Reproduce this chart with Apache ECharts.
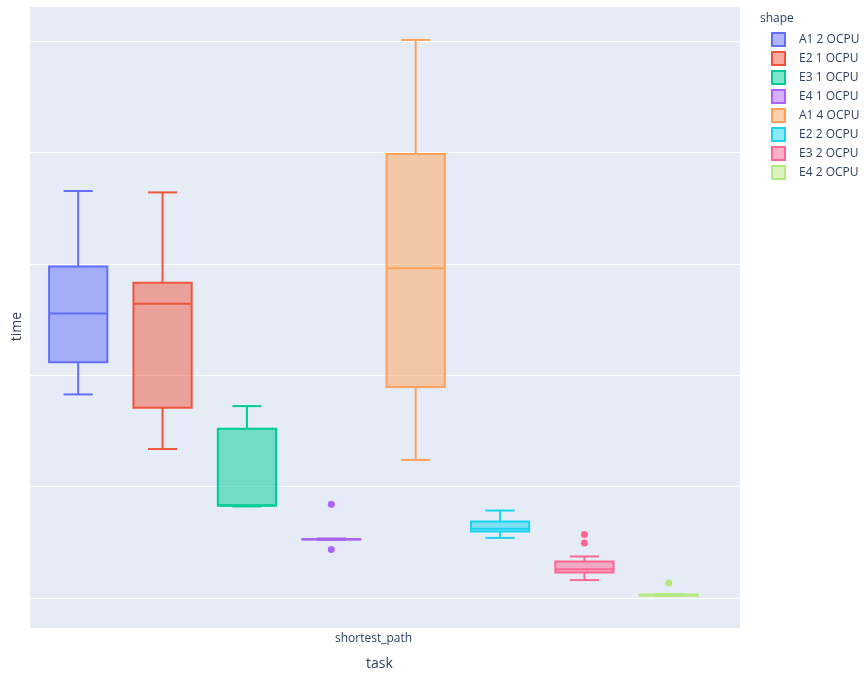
<!DOCTYPE html>
<html>
<head>
<meta charset="utf-8">
<script src="https://cdn.jsdelivr.net/npm/echarts@6/dist/echarts.min.js"></script>
<style>
html,body{margin:0;padding:0;background:#fff;}
#main{width:864px;height:676px;}
</style>
</head>
<body>
<div id="main"></div>
<script>
// ---- data (y units are arbitrary, labels hidden) ----
const taskCategories = ['shortest_path'];
const shapes = ['A1 2 OCPU', 'E2 1 OCPU', 'E3 1 OCPU', 'E4 1 OCPU', 'A1 4 OCPU', 'E2 2 OCPU', 'E3 2 OCPU', 'E4 2 OCPU'];
const boxMin    = [1.822, 1.331, 0.815, 0.514, 1.233, 0.532, 0.153, 0.010];
const boxQ1     = [2.112, 1.703, 0.820, 0.517, 1.888, 0.590, 0.222, 0.013];
const boxMedian = [2.549, 2.636, 0.826, 0.520, 2.956, 0.615, 0.251, 0.018];
const boxQ3     = [2.971, 2.825, 1.514, 0.523, 3.983, 0.680, 0.320, 0.023];
const boxMax    = [3.651, 3.638, 1.717, 0.527, 5.009, 0.778, 0.365, 0.026];
const outliers  = [[], [], [], [0.835, 0.428], [], [], [0.563, 0.487], [0.126]];
const yTicks = [0, 1, 2, 3, 4, 5];

// ---- styles ----
const lineColors = ['#636efa', '#EF553B', '#00cc96', '#ab63fa', '#FFA15A', '#19d3f3', '#FF6692', '#B6E880'];
const FONT = '"Open Sans", verdana, arial, sans-serif';
const TXT = '#2a3f5f';
const PLOT_BG = '#E5ECF6';

function hexToRgba(hex, a) {
  const h = hex.replace('#', '');
  const r = parseInt(h.slice(0, 2), 16), g = parseInt(h.slice(2, 4), 16), b = parseInt(h.slice(4, 6), 16);
  return 'rgba(' + r + ',' + g + ',' + b + ',' + a + ')';
}

const BOX_RATIO = 0.69;

function makeRender(color) {
  const fill = hexToRgba(color, 0.5);
  return function (params, api) {
    const xi = api.value(0);
    const pMin = api.coord([xi, api.value(1)]);
    const pQ1 = api.coord([xi, api.value(2)]);
    const pMed = api.coord([xi, api.value(3)]);
    const pQ3 = api.coord([xi, api.value(4)]);
    const pMax = api.coord([xi, api.value(5)]);
    const band = api.size([1, 0])[0];
    const bw = band * BOX_RATIO;
    const cw = bw / 2;
    const cx = pMed[0];
    const ls = { stroke: color, lineWidth: 2, fill: null };
    return {
      type: 'group',
      children: [
        { type: 'line', shape: { x1: cx, y1: pMax[1], x2: cx, y2: pQ3[1] }, style: ls },
        { type: 'line', shape: { x1: cx, y1: pQ1[1], x2: cx, y2: pMin[1] }, style: ls },
        { type: 'line', shape: { x1: cx - cw / 2, y1: pMax[1], x2: cx + cw / 2, y2: pMax[1] }, style: ls },
        { type: 'line', shape: { x1: cx - cw / 2, y1: pMin[1], x2: cx + cw / 2, y2: pMin[1] }, style: ls },
        { type: 'rect', shape: { x: cx - bw / 2, y: pQ3[1], width: bw, height: pQ1[1] - pQ3[1] },
          style: { fill: fill, stroke: color, lineWidth: 2 } },
        { type: 'line', shape: { x1: cx - bw / 2, y1: pMed[1], x2: cx + bw / 2, y2: pMed[1] }, style: ls }
      ]
    };
  };
}

const yMin = -0.269, yMax = 5.305;

const series = [];
shapes.forEach(function (name, i) {
  series.push({
    name: name,
    type: 'custom',
    xAxisIndex: 1,
    yAxisIndex: 1,
    color: lineColors[i],
    renderItem: makeRender(lineColors[i]),
    encode: { x: 0, y: [1, 2, 3, 4, 5] },
    data: [[i, boxMin[i], boxQ1[i], boxMedian[i], boxQ3[i], boxMax[i]]],
    z: 3
  });
  if (outliers[i].length) {
    series.push({
      name: name,
      type: 'scatter',
      xAxisIndex: 1,
      yAxisIndex: 1,
      symbol: 'circle',
      symbolSize: 7,
      itemStyle: { color: lineColors[i], opacity: 1 },
      data: outliers[i].map(function (v) { return [i, v]; }),
      z: 4
    });
  }
});

const option = {
  animation: false,
  backgroundColor: '#fff',
  textStyle: { fontFamily: FONT },
  graphic: [{
    type: 'text', left: 760, top: 13,
    style: { text: 'shape', font: '12px ' + FONT, fill: TXT }
  }],
  legend: {
    orient: 'vertical',
    left: 766,
    top: 27,
    itemWidth: 13,
    itemHeight: 13,
    itemGap: 4,
    icon: 'rect',
    textStyle: { fontFamily: FONT, fontSize: 12, color: TXT, padding: [0, 0, 0, 9] },
    data: shapes.map(function (n, i) {
      return { name: n, icon: 'rect',
        itemStyle: { color: hexToRgba(lineColors[i], 0.5), borderColor: lineColors[i], borderWidth: 2 } };
    })
  },
  grid: [
    { left: 30, right: 124, top: 7, bottom: 48, show: true, backgroundColor: PLOT_BG, borderWidth: 0 },
    { left: 36, width: 675, top: 7, bottom: 48, show: false }
  ],
  xAxis: [
    { type: 'category', gridIndex: 0, data: [''], axisLine: { show: false }, axisTick: { show: false },
      axisLabel: { show: false }, splitLine: { show: false } },
    { type: 'category', gridIndex: 1, data: shapes, show: false, position: 'bottom' },
    { type: 'category', gridIndex: 1, data: taskCategories, position: 'bottom',
      axisLine: { show: false }, axisTick: { show: false }, splitLine: { show: false },
      axisLabel: { show: true, color: TXT, fontSize: 12, fontFamily: FONT, margin: 6 },
      name: 'task', nameLocation: 'middle', nameGap: 30,
      nameTextStyle: { color: TXT, fontSize: 14, fontFamily: FONT, padding: [0, 0, 0, 12] } }
  ],
  yAxis: [
    { type: 'value', gridIndex: 0, min: yMin, max: yMax, splitNumber: yTicks.length - 1,
      axisLine: { show: false }, axisTick: { show: false }, axisLabel: { show: false },
      splitLine: { show: true, showMinLine: false, showMaxLine: false, lineStyle: { color: '#ffffff', width: 1 } },
      name: 'time', nameLocation: 'middle', nameGap: 6,
      nameTextStyle: { color: TXT, fontSize: 14, fontFamily: FONT, padding: [0, 18, 0, 0] } },
    { type: 'value', gridIndex: 1, min: yMin, max: yMax, show: false, splitLine: { show: false } }
  ],
  series: series
};

const chart = echarts.init(document.getElementById('main'), null, { renderer: 'canvas' });
chart.setOption(option);
</script>
</body>
</html>
